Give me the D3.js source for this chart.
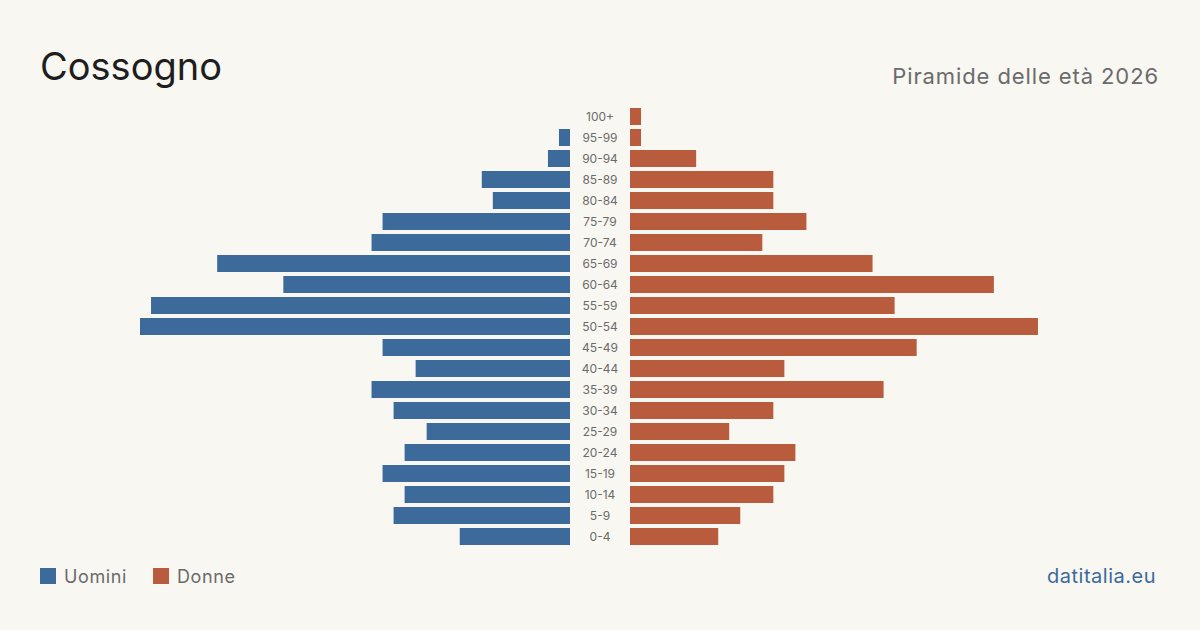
<!DOCTYPE html>
<html>
<head>
<meta charset="utf-8">
<script src="https://cdn.jsdelivr.net/npm/d3@7"></script>
<style>
  html, body { margin: 0; padding: 0; background: #f9f7f2; }
  svg { display: block; font-family: Inter, "Noto Sans", sans-serif; }
</style>
</head>
<body>
<svg id="chart" width="1200" height="630"></svg>
<script>
const ageGroups = ["100+", "95-99", "90-94", "85-89", "80-84", "75-79", "70-74", "65-69", "60-64", "55-59",
	"50-54", "45-49", "40-44", "35-39", "30-34", "25-29", "20-24", "15-19", "10-14", "5-9", "0-4"];
const men = [0, 1, 2, 8, 7, 17, 18, 32, 26, 38, 39, 17, 14, 18, 16, 13, 15, 17, 15, 16, 10];
const women = [1, 1, 6, 13, 13, 16, 12, 22, 33, 24, 37, 26, 14, 23, 13, 9, 15, 14, 13, 10, 8];

const blue = "#3b6a9b", orange = "#b95c3d";

const svg = d3.select("#chart");

svg.append("rect").attr("width", 1200).attr("height", 630).attr("fill", "#f9f7f2");

const y = d3.scaleBand()
	.domain(ageGroups)
	.range([106, 547])
	.paddingInner(4 / 21)
	.paddingOuter(2 / 21);

const maxVal = d3.max(men.concat(women));
const w = d3.scaleLinear().domain([0, maxVal]).range([0, 430]);

const left = 570, right = 630;

svg.append("g")
	.selectAll("rect")
	.data(men)
	.enter()
	.append("rect")
	.attr("x", d => left - w(d))
	.attr("y", (d, i) => y(ageGroups[i]))
	.attr("width", d => w(d))
	.attr("height", y.bandwidth())
	.attr("fill", blue);

svg.append("g")
	.selectAll("rect")
	.data(women)
	.enter()
	.append("rect")
	.attr("x", right)
	.attr("y", (d, i) => y(ageGroups[i]))
	.attr("width", d => w(d))
	.attr("height", y.bandwidth())
	.attr("fill", orange);

svg.append("g")
	.selectAll("text")
	.data(ageGroups)
	.enter()
	.append("text")
	.attr("x", 600)
	.attr("y", d => y(d) + y.bandwidth() / 2)
	.attr("dy", "0.36em")
	.attr("text-anchor", "middle")
	.attr("font-size", 12)
	.attr("fill", "#6b6b6b")
	.text(d => d);

svg.append("text")
	.attr("x", 40).attr("y", 80)
	.attr("font-size", 38)
	.attr("fill", "#1e1e1e")
	.text("Cossogno");

svg.append("text")
	.attr("x", 1159).attr("y", 84)
	.attr("text-anchor", "end")
	.attr("font-size", 22)
	.attr("letter-spacing", 0.9)
	.attr("fill", "#6b6b6b")
	.text("Piramide delle età 2026");

const legend = svg.append("g");
[["Uomini", blue, 40], ["Donne", orange, 153]].forEach(([label, color, x]) => {
	legend.append("rect").attr("x", x).attr("y", 568).attr("width", 16).attr("height", 16).attr("fill", color);
	legend.append("text").attr("x", x + 24).attr("y", 583)
		.attr("font-size", 18).attr("letter-spacing", 0.6)
		.attr("fill", "#6b6b6b").text(label);
});

svg.append("text")
	.attr("x", 1156).attr("y", 583)
	.attr("text-anchor", "end")
	.attr("font-size", 20)
	.attr("letter-spacing", 0.5)
	.attr("fill", "#3b6a9b")
	.text("datitalia.eu");
</script>
</body>
</html>
